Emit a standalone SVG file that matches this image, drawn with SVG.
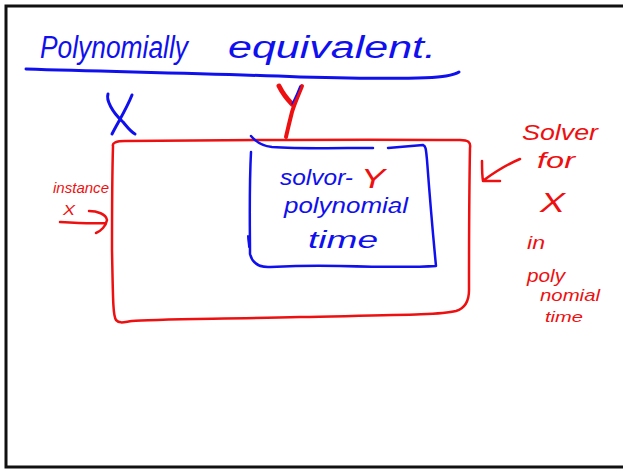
<svg xmlns="http://www.w3.org/2000/svg" width="623" height="471" viewBox="0 0 623 471">
<defs>
<style>
.ink{fill:none;stroke-linecap:round;stroke-linejoin:round}
.blue{stroke:#1010ee}
.red{stroke:#ee1010}
.tb{fill:#1010ee;font-family:"Liberation Sans","DejaVu Sans",sans-serif;font-style:italic}
.tr{fill:#ee1010;font-family:"Liberation Sans","DejaVu Sans",sans-serif;font-style:italic}
</style>
</defs>
<rect width="623" height="471" fill="#ffffff"/>
<rect x="6" y="6" width="640" height="461" fill="none" stroke="#111" stroke-width="3"/>

<g id="title">
<text class="tb" y="58" font-size="31"><tspan x="40" textLength="148" lengthAdjust="spacingAndGlyphs">Polynomially</tspan><tspan x="228" textLength="208" lengthAdjust="spacingAndGlyphs">equivalent.</tspan></text>
<path class="ink blue" stroke-width="3" d="M26,69 C120,72 200,73 300,77 C380,79 430,79 446,76 C452,75 456,74 459,72"/>
</g>

<g id="labelX">
<path class="ink blue" stroke-width="3" d="M108,94 C106,100 112,112 123,122 C128,128 131,132 135,134 M132,95 C126,110 118,122 112,134"/>
</g>

<g id="labelY">
<path class="ink red" stroke-width="5" d="M279,86 C283,94 288,100 292,104"/>
<path class="ink red" stroke-width="4" d="M302,86 C298,96 294,105 292,112 C290,120 288,128 286,137"/>
<path class="ink blue" stroke-width="1.5" d="M300,86 C297,94 294,100 292,104"/>
</g>

<g id="solverX">
<path class="ink red" stroke-width="2.5" d="M113,146 C112,143 116,141 125,141 C230,140 350,139 460,140 C468,140 471,142 470,148 C469,200 469,250 469,290 C469,300 466,308 456,311 C440,315 400,315 300,317 C220,319 150,319 132,321 C124,322 120,324 116,320 C113,316 113,300 112,250 C112,220 112,180 113,146"/>
</g>

<g id="solverY">
<path class="ink blue" stroke-width="2.5" d="M251,136 C256,142 262,146 272,147 C300,149 340,148 373,148 M388,148 C400,147 412,146 423,145 C426,146 426,150 427,160 C430,200 433,235 436,266 C420,267 380,267 340,266 C310,265 290,266 268,267 C258,267 252,262 250,254 C250,230 249,190 251,152"/>
<path class="ink blue" stroke-width="2" d="M248,236 C248,240 249,244 249,247"/>
<text class="tb" x="280" y="185" font-size="22" textLength="73" lengthAdjust="spacingAndGlyphs">solvor-</text>
<text class="tr" x="361" y="188" font-size="28" textLength="24" lengthAdjust="spacingAndGlyphs">Y</text>
<text class="tb" x="284" y="213" font-size="22" textLength="124" lengthAdjust="spacingAndGlyphs">polynomial</text>
<text class="tb" x="308" y="248" font-size="24" textLength="70" lengthAdjust="spacingAndGlyphs">time</text>
</g>

<g id="note-right">
<text class="tr" x="522" y="140" font-size="22" textLength="76" lengthAdjust="spacingAndGlyphs">Solver</text>
<text class="tr" x="537" y="168" font-size="22" textLength="38" lengthAdjust="spacingAndGlyphs">for</text>
<text class="tr" x="540" y="212" font-size="28" textLength="25" lengthAdjust="spacingAndGlyphs">X</text>
<text class="tr" x="527" y="249" font-size="18" textLength="18" lengthAdjust="spacingAndGlyphs">in</text>
<text class="tr" x="527" y="282" font-size="18" textLength="38" lengthAdjust="spacingAndGlyphs">poly</text>
<text class="tr" x="540" y="301" font-size="17" textLength="60" lengthAdjust="spacingAndGlyphs">nomial</text>
<text class="tr" x="545" y="322" font-size="15" textLength="38" lengthAdjust="spacingAndGlyphs">time</text>
</g>

<g id="note-left">
<text class="tr" x="53" y="193" font-size="15" textLength="56" lengthAdjust="spacingAndGlyphs">instance</text>
<text class="tr" x="63" y="215" font-size="15" textLength="12" lengthAdjust="spacingAndGlyphs">X</text>
</g>

<g id="connectors">
<path class="ink red" stroke-width="2.5" d="M520,159 C508,164 495,172 484,180 M482,161 C482,168 482,175 483,181 C489,181 495,181 500,181"/>
<path class="ink red" stroke-width="2.5" d="M60,222 C75,223 92,224 106,223 M89,211 C97,211 106,214 107,220 C106,226 101,231 96,233"/>
</g>
</svg>
